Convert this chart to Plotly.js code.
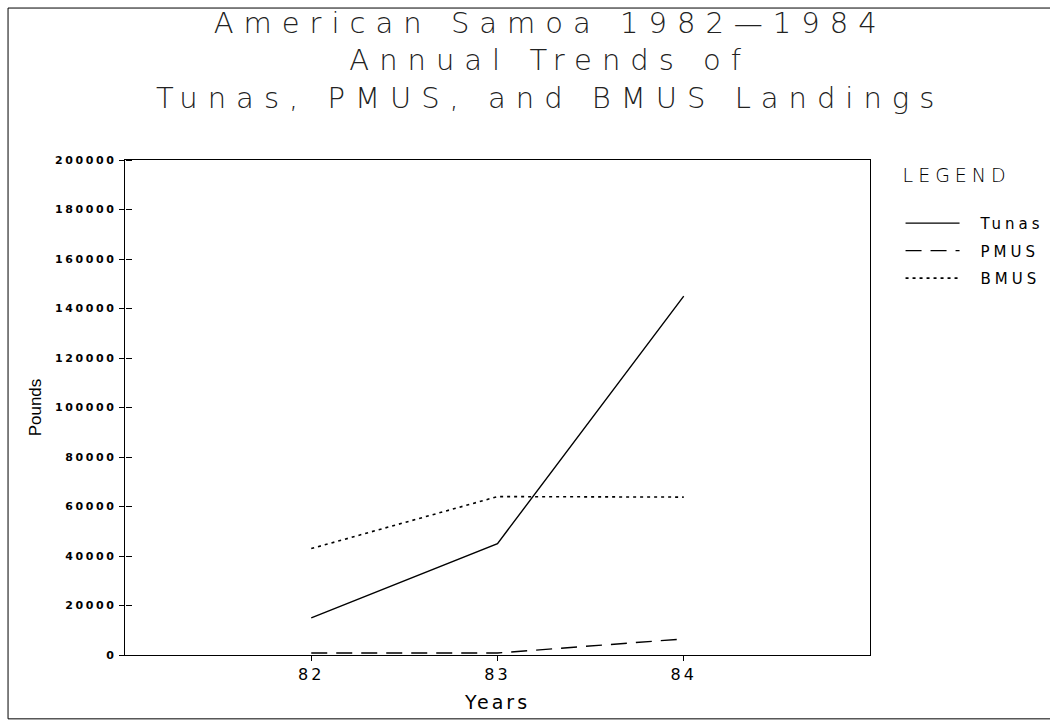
<!DOCTYPE html>
<html>
<head>
<meta charset="utf-8">
<script src="https://cdn.plot.ly/plotly-3.0.1.min.js"></script>
<style>
  html, body { margin: 0; padding: 0; background: #fff; }
  #chart { width: 1050px; height: 725px; }
  .gtitle { letter-spacing: 10px; }
  .ytick text { letter-spacing: 2.6px; }
  .xtick text { letter-spacing: 3px; }
  .g-xtitle text { letter-spacing: 3px; }
  .legendtext { letter-spacing: 4px; transform: translateX(16px); }
  .legendtitletext { letter-spacing: 5px; }
  .legend .scrollbox { clip-path: none !important; }
</style>
</head>
<body>
<div id="chart"></div>
<script>
// ---- data ----
const years = [82, 83, 84];
const yearLabels = ['82', '83', '84'];
const tunas = [15000, 45000, 145000];
const pmus = [800, 800, 6500];
const bmus = [43000, 64000, 63800];
const yTicks = [0, 20000, 40000, 60000, 80000, 100000, 120000, 140000, 160000, 180000, 200000];

const traces = [
  { x: years, y: tunas, name: 'Tunas', legendgroup: 'a', mode: 'lines',
    line: { color: '#000', width: 1.4, dash: 'solid' } },
  { x: years, y: pmus, name: 'PMUS', legendgroup: 'b', mode: 'lines',
    line: { color: '#000', width: 1.4, dash: '16px,9px' } },
  { x: years, y: bmus, name: 'BMUS', legendgroup: 'c', mode: 'lines',
    line: { color: '#000', width: 1.6, dash: '3px,4px' } },
  // invisible trace carrying the inner tick-mark axis
  { x: years, y: tunas, xaxis: 'x', yaxis: 'y2', mode: 'lines', showlegend: false,
    hoverinfo: 'skip', line: { color: 'rgba(255,255,255,0)', width: 1 } }
];

const layout = {
  width: 1050, height: 725,
  paper_bgcolor: '#fff', plot_bgcolor: '#fff',
  margin: { l: 125, r: 180, t: 160, b: 70 },
  font: { family: 'DejaVu Sans, sans-serif', color: '#000' },
  title: {
    text: 'American Samoa 1982\u20141984<br>Annual Trends of<br>Tunas, PMUS, and BMUS Landings',
    font: { family: 'DejaVu Sans, sans-serif', size: 29, weight: 300, color: '#222' },
    x: 0.524, xanchor: 'center', xref: 'container',
    y: 0.955, yanchor: 'top'
  },
  xaxis: {
    range: [81, 85],
    tickvals: years, ticktext: yearLabels,
    ticks: 'outside', ticklen: 5, tickcolor: '#000',
    showline: true, linecolor: '#000', linewidth: 1.2, mirror: true,
    showgrid: false, zeroline: false,
    tickfont: { family: 'DejaVu Sans, sans-serif', size: 16 },
    title: { text: 'Years', font: { family: 'DejaVu Sans, sans-serif', size: 19 }, standoff: 12 }
  },
  yaxis: {
    range: [0, 200000],
    tickvals: yTicks, ticktext: yTicks.map(String),
    ticks: 'outside', ticklen: 5, tickcolor: '#000',
    showline: true, linecolor: '#000', linewidth: 1.2, mirror: true,
    showgrid: false, zeroline: false,
    tickfont: { family: 'DejaVu Sans, sans-serif', size: 11, weight: 'bold' },
    title: { text: 'Pounds', font: { family: 'Liberation Sans Narrow, Liberation Sans, sans-serif', size: 17 }, standoff: 9 }
  },
  yaxis2: {
    overlaying: 'y', anchor: 'free', position: 0, side: 'right',
    range: [0, 200000],
    tickvals: yTicks, showticklabels: false,
    ticks: 'outside', ticklen: 6, tickcolor: '#000',
    showline: false, showgrid: false, zeroline: false
  },
  showlegend: true,
  legend: {
    x: 1.041, xanchor: 'left', y: 1.005, yanchor: 'top',
    traceorder: 'grouped', tracegroupgap: 5,
    itemwidth: 54,
    bgcolor: 'rgba(0,0,0,0)',
    font: { family: 'DejaVu Sans, sans-serif', size: 15 },
    title: { text: 'LEGEND<br> ', side: 'top', font: { family: 'DejaVu Sans, sans-serif', size: 19, weight: 300 } }
  },
  shapes: [
    { type: 'rect', xref: 'paper', yref: 'paper',
      x0: -0.157, x1: 1.25, y0: -0.129, y1: 1.307,
      line: { color: '#000', width: 1 }, fillcolor: 'rgba(0,0,0,0)' }
  ]
};

Plotly.newPlot('chart', traces, layout, { staticPlot: true, displayModeBar: false });
</script>
</body>
</html>
